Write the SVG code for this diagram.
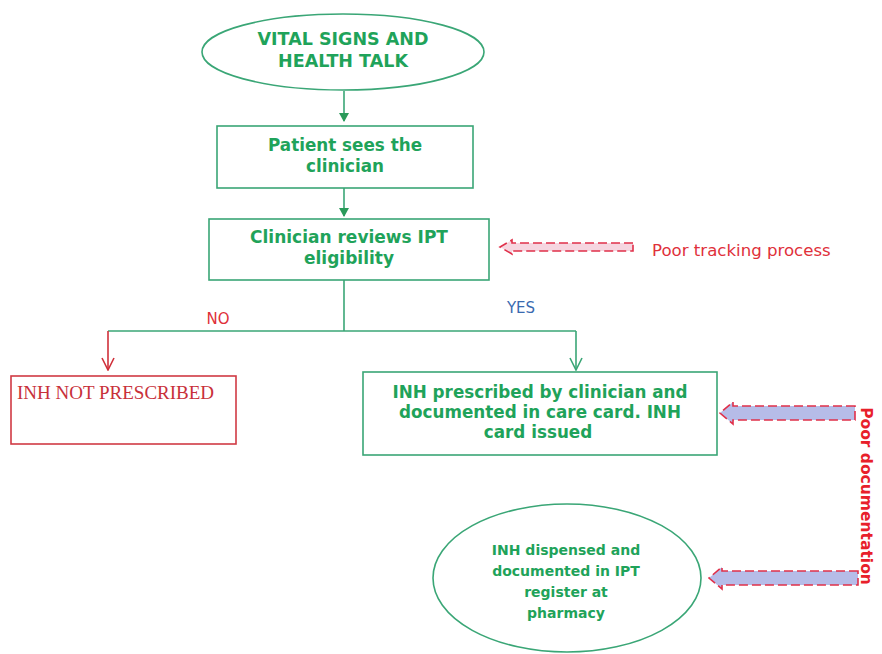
<svg xmlns="http://www.w3.org/2000/svg" width="882" height="654" viewBox="0 0 882 654">
<defs>
<style>
.g{fill:#1fa35a;font-family:"DejaVu Sans",Verdana,sans-serif;font-weight:bold;text-anchor:middle}
.box{fill:#fff;stroke:#3aa676;stroke-width:1.6}
.ln{stroke:#3aa676;stroke-width:1.6;fill:none}
.red{fill:#e0303a;font-family:"DejaVu Sans",Verdana,sans-serif}
.dash{stroke:#e0304a;stroke-width:1.6;stroke-dasharray:9 4}
</style>
<marker id="fa" markerWidth="10" markerHeight="10" refX="8" refY="5" orient="auto" markerUnits="userSpaceOnUse">
<path d="M0,0 L9,5 L0,10 z" fill="#2a9a5a"/>
</marker>
<marker id="vg" markerWidth="14" markerHeight="16" refX="13" refY="7" orient="auto" markerUnits="userSpaceOnUse">
<path d="M1,1 L13,7 L1,13" fill="none" stroke="#3aa676" stroke-width="1.6"/>
</marker>
<marker id="vr" markerWidth="14" markerHeight="16" refX="13" refY="7" orient="auto" markerUnits="userSpaceOnUse">
<path d="M1,1 L13,7 L1,13" fill="none" stroke="#d0303a" stroke-width="1.6"/>
</marker>
</defs>

<g id="connectors">
<line class="ln" x1="344" y1="91" x2="344" y2="121" marker-end="url(#fa)" stroke="#2a9a5a"/>
<line class="ln" x1="344" y1="188" x2="344" y2="216" marker-end="url(#fa)" stroke="#2a9a5a"/>
<line class="ln" x1="344" y1="280" x2="344" y2="331"/>
<line class="ln" x1="108" y1="331" x2="576" y2="331"/>
<line x1="108" y1="331" x2="108" y2="370" stroke="#d0303a" stroke-width="1.6" marker-end="url(#vr)"/>
<line class="ln" x1="576" y1="331" x2="576" y2="370" marker-end="url(#vg)"/>
<text class="red" x="218" y="324" font-size="15" text-anchor="middle">NO</text>
<text x="521" y="313" font-size="15" fill="#3a6ab0" font-family="'DejaVu Sans',Verdana,sans-serif" text-anchor="middle">YES</text>
</g>

<g id="n-vital">
<ellipse cx="343" cy="52" rx="141" ry="38" class="box"/>
<text class="g" x="343" y="45" font-size="17.5">VITAL SIGNS AND</text>
<text class="g" x="343" y="67" font-size="17.5">HEALTH TALK</text>
</g>

<g id="n-patient">
<rect x="217" y="126" width="256" height="62" class="box"/>
<text class="g" x="345" y="151" font-size="16.8">Patient sees the</text>
<text class="g" x="345" y="172" font-size="16.8">clinician</text>
</g>

<g id="n-review">
<rect x="209" y="219" width="280" height="61" class="box"/>
<text class="g" x="349" y="243" font-size="17">Clinician reviews IPT</text>
<text class="g" x="349" y="264" font-size="17">eligibility</text>
</g>

<g id="n-notpres">
<rect x="11" y="376" width="225" height="68" fill="#fff" stroke="#d03a44" stroke-width="1.6"/>
<text x="17" y="399" font-size="19" fill="#c8303a" font-family="'Liberation Serif','Times New Roman',serif">INH NOT PRESCRIBED</text>
</g>

<g id="n-prescribed">
<rect x="363" y="372" width="354" height="83" class="box"/>
<text class="g" x="540" y="398" font-size="16.8">INH prescribed by clinician and</text>
<text class="g" x="540" y="418" font-size="16.8">documented in care card. INH</text>
<text class="g" x="538" y="438" font-size="16.8">card issued</text>
</g>

<g id="n-dispensed">
<ellipse cx="567" cy="578" rx="134" ry="74" class="box"/>
<text class="g" x="566" y="555" font-size="14">INH dispensed and</text>
<text class="g" x="566" y="576" font-size="14">documented in IPT</text>
<text class="g" x="566" y="597" font-size="14">register at</text>
<text class="g" x="566" y="618" font-size="14">pharmacy</text>
</g>

<g id="n-tracking">
<path d="M633,243 L512,243 L512,240 L500,247 L512,254 L512,251 L633,251 z" fill="#f6d6e0" class="dash"/>
<text class="red" x="652" y="256" font-size="16.6">Poor tracking process</text>
</g>

<g id="n-documentation">
<path d="M855,406 L733,406 L733,402 L720,413 L733,424 L733,420 L855,420 z" fill="#b6bce8" class="dash"/>
<path d="M858,571 L722,571 L722,567 L709,578 L722,589 L722,585 L858,585 z" fill="#b6bce8" class="dash"/>
<text x="866" y="496" font-size="15.5" font-weight="bold" fill="#e8202a" font-family="'DejaVu Sans',Verdana,sans-serif" text-anchor="middle" transform="rotate(90 866 496)" dy="5">Poor documentation</text>
</g>
</svg>
